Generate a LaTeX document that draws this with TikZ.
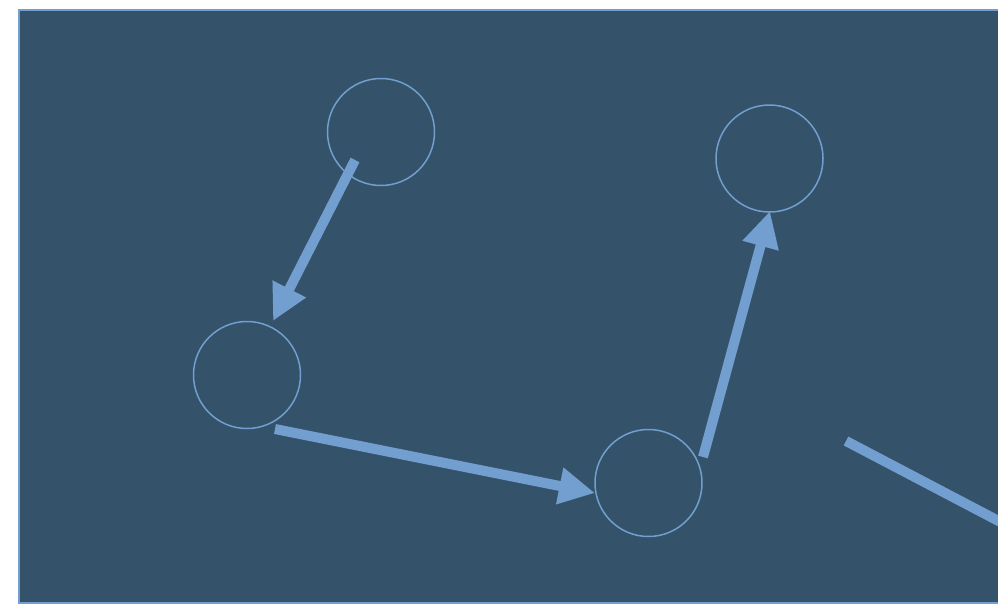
\documentclass[tikz,border=0pt]{standalone}
\usetikzlibrary{arrows.meta}
\definecolor{bgc}{HTML}{34536A}
\definecolor{lnc}{HTML}{729FCF}
\begin{document}
\begin{tikzpicture}[x=1pt,y=-1pt,
  circ/.style={circle,draw=lnc,line width=1.5pt,minimum size=107pt,inner sep=0pt},
  arr/.style={draw=lnc,line width=10pt,-{Triangle[length=36pt,width=35pt]}},
  seg/.style={draw=lnc,line width=10pt}]
\useasboundingbox (0,0) rectangle (998,605);
\clip (0,0) rectangle (998,605);
\draw[fill=bgc,draw=lnc,line width=2pt] (19,10) rectangle (1010,603);
\node[circ] (c1) at (381,132) {};
\node[circ] (c2) at (247,375) {};
\node[circ] (c3) at (648.5,483) {};
\node[circ] (c4) at (769.5,158.5) {};
\coordinate (a1s) at (355,160);
\coordinate (a1e) at (273,321);
\coordinate (a2s) at (275,429);
\coordinate (a2e) at (595,493);
\coordinate (a3s) at (703,457);
\coordinate (a3e) at (770,211);
\coordinate (a4s) at (846,441);
\coordinate (a4e) at (1010,527);
\draw[arr] (a1s) -- (a1e);
\draw[arr] (a2s) -- (a2e);
\draw[arr] (a3s) -- (a3e);
\draw[seg] (a4s) -- (a4e);
\end{tikzpicture}
\end{document}
